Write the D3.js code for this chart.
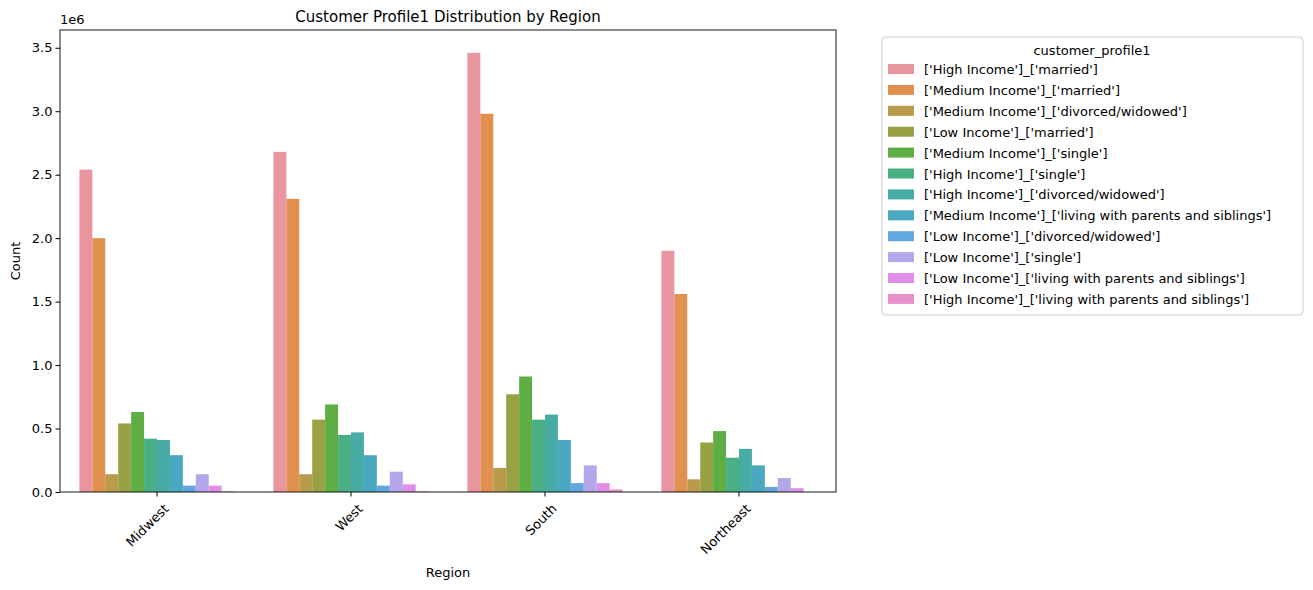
<!DOCTYPE html>
<html><head><meta charset="utf-8">
<script src="https://cdn.jsdelivr.net/npm/d3@7"></script>
<style>body{margin:0;background:#fff;font-family:"DejaVu Sans",sans-serif}</style>
</head><body>
<svg id="chart" width="1313" height="590"></svg>
<script>
// regions along x, profiles as hue
var regions = ["Midwest", "West", "South", "Northeast"];
var profiles = [
  "['High Income']_['married']",
  "['Medium Income']_['married']",
  "['Medium Income']_['divorced/widowed']",
  "['Low Income']_['married']",
  "['Medium Income']_['single']",
  "['High Income']_['single']",
  "['High Income']_['divorced/widowed']",
  "['Medium Income']_['living with parents and siblings']",
  "['Low Income']_['divorced/widowed']",
  "['Low Income']_['single']",
  "['Low Income']_['living with parents and siblings']",
  "['High Income']_['living with parents and siblings']"
];
// counts in millions, one row per region
var midwest = [2.54, 2.00, 0.14, 0.54, 0.63, 0.42, 0.41, 0.29, 0.05, 0.14, 0.05, 0.005];
var west = [2.68, 2.31, 0.14, 0.57, 0.69, 0.45, 0.47, 0.29, 0.05, 0.16, 0.06, 0.005];
var south = [3.46, 2.98, 0.19, 0.77, 0.91, 0.57, 0.61, 0.41, 0.07, 0.21, 0.07, 0.02];
var northeast = [1.90, 1.56, 0.10, 0.39, 0.48, 0.27, 0.34, 0.21, 0.04, 0.11, 0.03, 0];
var counts = [midwest, west, south, northeast];
var yTicks = [0, 0.5, 1.0, 1.5, 2.0, 2.5, 3.0, 3.5];
var colors = ["#e8959f", "#e1914f", "#b99b4b", "#98a245", "#5fae45", "#4aaf84",
  "#47aba6", "#4aa8c1", "#63a7e1", "#b3a6eb", "#e08fe7", "#e68fc8"];

var svg = d3.select("#chart");
var mLeft = 60, mRight = 836, mTop = 30, mBottom = 492;

var x0 = d3.scaleBand().domain(regions).range([mLeft, mRight]).paddingInner(0.2).paddingOuter(0.1);
var x1 = d3.scaleBand().domain(d3.range(profiles.length)).range([0, x0.bandwidth()]);
var y = d3.scaleLinear().domain([0, 3.64]).range([mBottom, mTop]);

var groups = svg.selectAll("g.region").data(regions).enter().append("g")
  .attr("class", "region")
  .attr("transform", function(d) { return "translate(" + x0(d) + ",0)"; });
groups.selectAll("rect").data(function(d, i) { return counts[i]; }).enter().append("rect")
  .attr("x", function(d, j) { return x1(j); })
  .attr("width", x1.bandwidth())
  .attr("y", function(d) { return y(d); })
  .attr("height", function(d) { return mBottom - y(d); })
  .attr("fill", function(d, j) { return colors[j]; });

svg.append("rect").attr("x", mLeft).attr("y", mTop).attr("width", mRight - mLeft)
  .attr("height", mBottom - mTop).attr("fill", "none").attr("stroke", "#000").attr("stroke-width", 0.9);

var ya = svg.append("g").attr("transform", "translate(" + mLeft + ",0)")
  .call(d3.axisLeft(y).tickValues(yTicks).tickFormat(d3.format(".1f")).tickSize(4.5).tickSizeOuter(0));
ya.select(".domain").remove();
ya.selectAll("text").style("font-size", "13px").style("font-family", "DejaVu Sans").attr("fill", "#000");
svg.append("text").attr("x", mLeft).attr("y", mTop - 6).text("1e6").style("font-size", "13px");

var xa = svg.append("g").attr("transform", "translate(0," + mBottom + ")")
  .call(d3.axisBottom(x0).tickSize(4.5).tickSizeOuter(0));
xa.select(".domain").remove();
xa.selectAll("text").style("font-size", "13px").style("font-family", "DejaVu Sans").attr("fill", "#000")
  .attr("text-anchor", "end").attr("dy", "0.35em")
  .attr("transform", "translate(4,9) rotate(-45)");

svg.append("text").attr("x", (mLeft + mRight) / 2).attr("y", 577).attr("text-anchor", "middle")
  .text("Region").style("font-size", "13px");
svg.append("text").attr("transform", "translate(20," + ((mTop + mBottom) / 2) + ") rotate(-90)")
  .attr("text-anchor", "middle").text("Count").style("font-size", "13px");
svg.append("text").attr("x", (mLeft + mRight) / 2).attr("y", 22).attr("text-anchor", "middle")
  .text("Customer Profile1 Distribution by Region").style("font-size", "15px");

// legend
var lg = svg.append("g").attr("transform", "translate(882,37)");
lg.append("rect").attr("width", 421).attr("height", 278).attr("rx", 4)
  .attr("fill", "#fff").attr("stroke", "#ccc");
lg.append("text").attr("x", 210).attr("y", 18).attr("text-anchor", "middle")
  .text("customer_profile1").style("font-size", "13px");
var items = lg.selectAll("g.item").data(profiles).enter().append("g")
  .attr("transform", function(d, i) { return "translate(6," + (27 + i * 20.9) + ")"; });
items.append("rect").attr("width", 26).attr("height", 10)
  .attr("fill", function(d, i) { return colors[i]; });
items.append("text").attr("x", 36).attr("y", 10).text(function(d) { return d; })
  .style("font-size", "13px");
</script>
</body></html>
